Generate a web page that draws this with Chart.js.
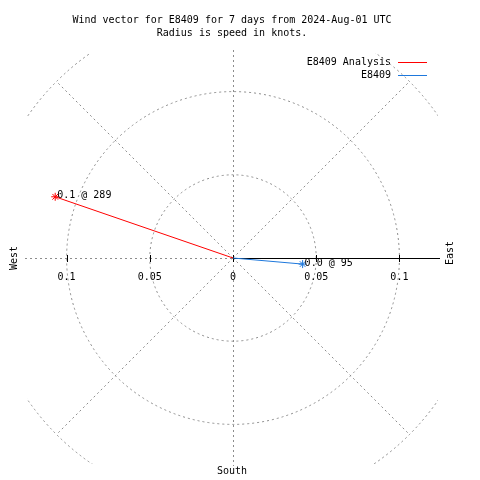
<!DOCTYPE html>
<html>
<head>
<meta charset="utf-8">
<script src="https://cdn.jsdelivr.net/npm/chart.js@4"></script>
<style>
  body { margin: 0; background: #fff; }
  #wrap { width: 480px; height: 480px; }
</style>
</head>
<body>
<div id="wrap"><canvas id="windChart" width="480" height="480"></canvas></div>
<script>
// Wind vectors: speed (knots) and direction (degrees)
const seriesNames = ["E8409 Analysis", "E8409"];
const speeds = [0.113, 0.042];
const directions = [289, 95];
const seriesColors = ["#ff0000", "#1e78dc"];

// polar grid rings and axis ticks
const ringValues = [0.05, 0.1, 0.15];
const tickValues = [-0.1, -0.05, 0, 0.05, 0.1];
const tickLabels = ["0.1", "0.05", "0", "0.05", "0.1"];

const FONT = "10px 'DejaVu Sans Mono', monospace";
const GRID = "#8c8c8c";

const datasets = seriesNames.map(function (name, i) {
    const rad = directions[i] * Math.PI / 180;
    return {
        label: name,
        data: [{ x: 0, y: 0 }, { x: speeds[i] * Math.sin(rad), y: speeds[i] * Math.cos(rad) }],
        showLine: true,
        borderColor: seriesColors[i],
        backgroundColor: seriesColors[i],
        borderWidth: 1,
        pointStyle: "star",
        pointRadius: [0, 4],
        pointBorderWidth: 1,
        clip: false
    };
});

const polarGrid = {
    id: "polarGrid",
    beforeDatasetsDraw(chart) {
        const ctx = chart.ctx, a = chart.chartArea;
        const xs = chart.scales.x, ys = chart.scales.y;
        const cx = xs.getPixelForValue(0), cy = ys.getPixelForValue(0);
        ctx.save();
        ctx.beginPath();
        ctx.rect(a.left + 2, a.top + 3, a.right - a.left - 5, a.bottom - a.top - 5);
        ctx.clip();
        ctx.strokeStyle = GRID;
        ctx.lineWidth = 1;
        ctx.setLineDash([2, 3]);
        ringValues.forEach(function (v) {
            const r = xs.getPixelForValue(v) - cx;
            ctx.beginPath();
            ctx.arc(cx, cy, r, 0, Math.PI * 2);
            ctx.stroke();
        });
        const rMax = xs.getPixelForValue(ringValues[ringValues.length - 1]) - cx;
        [45, 135, 225, 315].forEach(function (deg) {
            const t = deg * Math.PI / 180;
            ctx.beginPath();
            ctx.moveTo(cx, cy);
            ctx.lineTo(cx + rMax * Math.cos(t), cy - rMax * Math.sin(t));
            ctx.stroke();
        });
        ctx.restore();

        // vertical axis and west half of horizontal axis
        ctx.save();
        ctx.strokeStyle = GRID;
        ctx.lineWidth = 1;
        ctx.setLineDash([2, 3]);
        ctx.beginPath();
        ctx.moveTo(Math.round(cx) + 0.5, a.top);
        ctx.lineTo(Math.round(cx) + 0.5, a.bottom);
        ctx.moveTo(a.left, Math.round(cy) + 0.5);
        ctx.lineTo(cx, Math.round(cy) + 0.5);
        ctx.stroke();
        ctx.restore();

        // east half solid, with tick marks
        ctx.save();
        ctx.strokeStyle = "#000";
        ctx.lineWidth = 1;
        ctx.beginPath();
        ctx.moveTo(cx, Math.round(cy) + 0.5);
        ctx.lineTo(a.right - 1, Math.round(cy) + 0.5);
        tickValues.forEach(function (v) {
            const px = Math.round(xs.getPixelForValue(v)) + 0.5;
            ctx.moveTo(px, cy - 3);
            ctx.lineTo(px, cy + 4);
        });
        ctx.stroke();
        ctx.restore();
    },
    afterDatasetsDraw(chart) {
        const ctx = chart.ctx;
        const xs = chart.scales.x, ys = chart.scales.y;
        const cy = ys.getPixelForValue(0);
        ctx.save();
        ctx.font = FONT;
        ctx.fillStyle = "#000";
        ctx.textBaseline = "middle";

        // title
        ctx.textAlign = "center";
        ctx.fillText("Wind vector for E8409 for 7 days from 2024-Aug-01 UTC", 232, 20);
        ctx.fillText("Radius is speed in knots.", 232, 33);

        // tick labels
        tickValues.forEach(function (v, i) {
            ctx.fillText(tickLabels[i], xs.getPixelForValue(v), cy + 19);
        });
        ctx.fillText("South", 232, 471);

        // West / East rotated
        ctx.save();
        ctx.translate(14, 258);
        ctx.rotate(-Math.PI / 2);
        ctx.fillText("West", 0, 0);
        ctx.restore();
        ctx.save();
        ctx.translate(450, 253);
        ctx.rotate(-Math.PI / 2);
        ctx.fillText("East", 0, 0);
        ctx.restore();

        // point labels
        ctx.textAlign = "left";
        chart.data.datasets.forEach(function (ds, i) {
            const p = ds.data[1];
            const px = xs.getPixelForValue(p.x), py = ys.getPixelForValue(p.y);
            ctx.fillText(speeds[i].toFixed(1) + " @ " + directions[i], px + 2, py - 1);
        });

        // legend
        ctx.textAlign = "right";
        seriesNames.forEach(function (name, i) {
            const y = 62 + i * 13;
            ctx.fillStyle = "#000";
            ctx.fillText(name, 391, y);
            ctx.strokeStyle = seriesColors[i];
            ctx.lineWidth = 1;
            ctx.beginPath();
            ctx.moveTo(398, y + 0.5);
            ctx.lineTo(427, y + 0.5);
            ctx.stroke();
        });
        ctx.restore();
    }
};

new Chart(document.getElementById("windChart").getContext("2d"), {
    type: "scatter",
    data: { datasets: datasets },
    options: {
        responsive: false,
        animation: false,
        layout: { padding: { left: 25, right: 39, top: 50, bottom: 14 } },
        scales: {
            x: { type: "linear", min: -0.125, max: 0.125, display: false },
            y: { type: "linear", min: -0.125, max: 0.125, display: false }
        },
        plugins: { legend: { display: false }, tooltip: { enabled: false } }
    },
    plugins: [polarGrid]
});
</script>
</body>
</html>
